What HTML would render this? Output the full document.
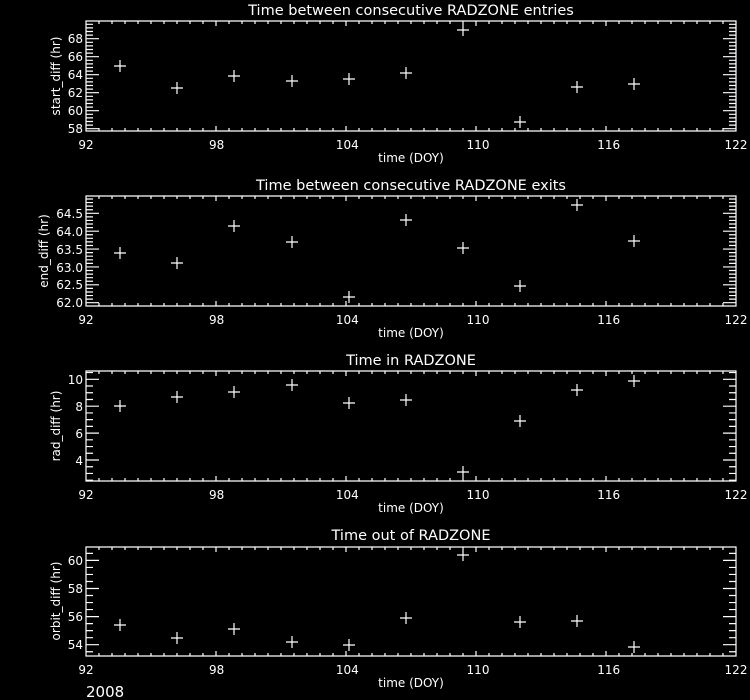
<!DOCTYPE html>
<html><head><meta charset="utf-8"><style>
html,body{margin:0;padding:0;background:#000;}
svg{display:block}
text{font-family:"DejaVu Sans","Liberation Sans",sans-serif;fill:#fff;}
</style></head><body>
<svg id="s" width="750" height="700" viewBox="0 0 750 700" xmlns="http://www.w3.org/2000/svg">
<rect width="750" height="700" fill="#000"/>
<g id="g" stroke="#fff" stroke-width="1.2" fill="none"></g>
<g font-size="14.5" text-anchor="middle">
<text x="411" y="15">Time between consecutive RADZONE entries</text>
<text x="411" y="190">Time between consecutive RADZONE exits</text>
<text x="411" y="365">Time in RADZONE</text>
<text x="411" y="540">Time out of RADZONE</text>
</g>
<g font-size="12" text-anchor="middle">
<text x="86" y="149">92</text><text x="216.7" y="149">98</text><text x="347.3" y="149">104</text><text x="478" y="149">110</text><text x="608.7" y="149">116</text><text x="736" y="149">122</text>
<text x="411" y="162">time (DOY)</text>
<text x="86" y="324">92</text><text x="216.7" y="324">98</text><text x="347.3" y="324">104</text><text x="478" y="324">110</text><text x="608.7" y="324">116</text><text x="736" y="324">122</text>
<text x="411" y="337">time (DOY)</text>
<text x="86" y="499">92</text><text x="216.7" y="499">98</text><text x="347.3" y="499">104</text><text x="478" y="499">110</text><text x="608.7" y="499">116</text><text x="736" y="499">122</text>
<text x="411" y="512">time (DOY)</text>
<text x="86" y="674">92</text><text x="216.7" y="674">98</text><text x="347.3" y="674">104</text><text x="478" y="674">110</text><text x="608.7" y="674">116</text><text x="736" y="674">122</text>
<text x="411" y="687">time (DOY)</text>
</g>
<g font-size="12" text-anchor="end">
<text x="83" y="43">68</text><text x="83" y="61">66</text><text x="83" y="79">64</text><text x="83" y="97">62</text><text x="83" y="115">60</text><text x="83" y="133">58</text>
<text x="83" y="218">64.5</text><text x="83" y="236">64.0</text><text x="83" y="254">63.5</text><text x="83" y="272">63.0</text><text x="83" y="289">62.5</text><text x="83" y="307">62.0</text>
<text x="83" y="384">10</text><text x="83" y="411">8</text><text x="83" y="438">6</text><text x="83" y="465">4</text>
<text x="83" y="565">60</text><text x="83" y="593">58</text><text x="83" y="621">56</text><text x="83" y="649">54</text>
</g>
<g font-size="12" text-anchor="middle">
<text transform="translate(60,76) rotate(-90)">start_diff (hr)</text>
<text transform="translate(48,251) rotate(-90)">end_diff (hr)</text>
<text transform="translate(60,426) rotate(-90)">rad_diff (hr)</text>
<text transform="translate(60,601) rotate(-90)">orbit_diff (hr)</text>
</g>
<text x="86" y="697" font-size="15">2008</text>
</svg>
<script>
var g=document.getElementById('g');var d='';
function L(a,b,c,e){d+='M'+a+' '+b+'L'+c+' '+e;}
var X0=86,X1=736;
var panels=[
 {t:21,b:131,v0:58,p0:128.7,s:9,maj:2,min:0.4,
  pts:[66,88,76,81,79,73,30,122,87,84]},
 {t:196,b:306,v0:62,p0:302.7,s:35.76,maj:0.5,min:0.1,
  pts:[253,263,140,242,297,220,248,286,205,241]},
 {t:371,b:481,v0:4,p0:460,s:13.45,maj:2,min:0.5,
  pts:[406,397,392,385,403,400,472,421,390,381]},
 {t:547,b:656,v0:54,p0:644.7,s:14.05,maj:2,min:0.5,
  pts:[625,638,629,642,645,618,555,622,621,647]}
];
panels[1].pts[2]=226;
var xs=[120,177,234,292,349,406,463,520,577,634];
panels.forEach(function(p){
 d+='M'+X0+' '+p.t+'H'+X1+'V'+p.b+'H'+X0+'Z';
 for(var i=0;i<=50;i++){var x=X0+i*13;var big=i%10==0;var l=big?5:3;
  L(x,p.b,x,p.b-l);L(x,p.t,x,p.t+l);}
 var n=Math.round(p.maj/p.min);
 for(var k=-200;k<=200;k++){var v=p.v0+k*p.min;var y=p.p0-(v-p.v0)*p.s;
  if(y<p.t+0.5||y>p.b-0.5)continue;var big=(k%n==0);var l=big?13:7;
  L(X0,y,X0+l,y);L(X1,y,X1-l,y);}
 p.pts.forEach(function(y,i){var x=xs[i];L(x-6,y,x+6,y);L(x,y-6,x,y+6);});
});
var pa=document.createElementNS('http://www.w3.org/2000/svg','path');
pa.setAttribute('d',d);g.appendChild(pa);
</script>
</body></html>
